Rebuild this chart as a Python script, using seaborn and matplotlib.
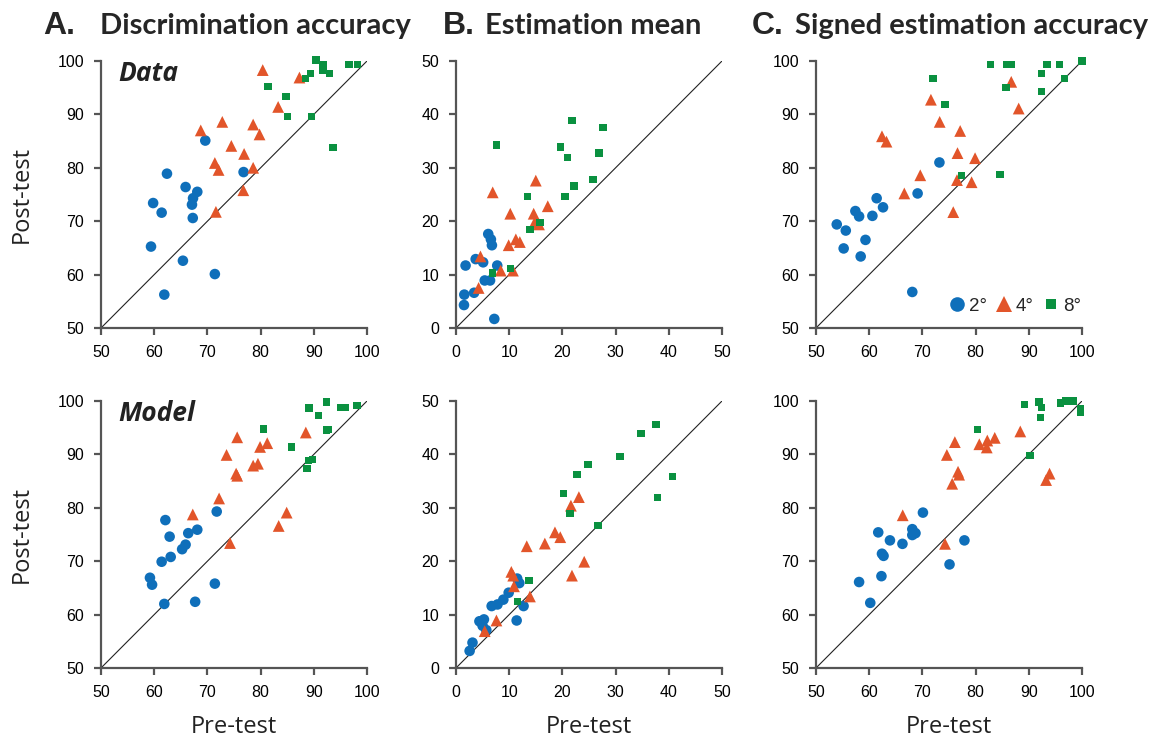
import numpy as np
import pandas as pd
import seaborn as sns
import matplotlib.pyplot as plt
from matplotlib.lines import Line2D

# ---- data (pre-test, post-test) ----
# A. discrimination accuracy, data
disc_data_2_pre = [69.6, 62.4, 76.8, 65.9, 68.1, 67.3, 67.1, 59.8, 61.4, 67.25, 59.4, 65.4, 71.4, 61.9]
disc_data_2_post = [85.1, 78.9, 79.2, 76.4, 75.5, 74.3, 73.1, 73.4, 71.6, 70.6, 65.25, 62.6, 60.1, 56.25]
disc_data_4_pre = [80.4, 87.3, 83.3, 72.8, 68.75, 78.6, 79.8, 74.5, 76.9, 71.4, 72.1, 78.6, 76.75, 71.6]
disc_data_4_post = [98.3, 96.9, 91.4, 88.6, 87.0, 88.1, 86.25, 84.1, 82.6, 80.9, 79.6, 80.0, 75.8, 71.75]
disc_data_8_pre = [90.4, 91.7, 91.7, 92.9, 89.4, 88.4, 96.6, 98.25, 81.4, 84.75, 85.1, 89.6, 93.6]
disc_data_8_post = [100.2, 99.3, 98.3, 97.6, 97.6, 96.7, 99.3, 99.3, 95.2, 93.3, 89.6, 89.6, 83.75]

# B. estimation mean, data
est_data_2_pre = [6.06, 6.56, 6.75, 1.8, 3.7, 5.1, 7.75, 5.4, 6.4, 1.56, 3.4, 1.5, 7.2]
est_data_2_post = [17.6, 16.6, 15.5, 11.7, 12.9, 12.3, 11.7, 8.9, 8.9, 6.25, 6.6, 4.3, 1.7]
est_data_4_pre = [6.9, 15.0, 17.25, 10.2, 14.6, 14.8, 15.6, 11.25, 12.0, 9.9, 4.6, 8.4, 10.7, 4.25]
est_data_4_post = [25.4, 27.6, 22.8, 21.4, 21.4, 19.8, 19.4, 16.6, 16.1, 15.5, 13.4, 10.75, 10.75, 7.5]
est_data_8_pre = [21.8, 27.6, 7.6, 19.6, 20.9, 26.9, 25.75, 22.2, 13.4, 20.5, 15.8, 13.9, 6.8, 10.2]
est_data_8_post = [38.8, 37.5, 34.3, 33.9, 31.9, 32.8, 27.75, 26.6, 24.6, 24.6, 19.7, 18.4, 10.3, 11.1]

# C. signed estimation accuracy, data
sgn_data_2_pre = [73.2, 69.1, 61.4, 62.6, 57.4, 58.1, 60.6, 53.9, 55.6, 59.3, 55.2, 58.4, 68.1]
sgn_data_2_post = [81.0, 75.2, 74.3, 72.6, 71.9, 70.9, 71.0, 69.4, 68.25, 66.5, 64.9, 63.4, 56.75]
sgn_data_4_pre = [86.7, 88.1, 71.6, 73.25, 77.1, 62.4, 63.25, 76.6, 79.9, 69.6, 76.5, 79.25, 66.6, 75.8]
sgn_data_4_post = [96.1, 91.1, 92.75, 88.6, 86.9, 85.9, 84.9, 82.75, 81.8, 78.6, 77.7, 77.3, 75.2, 71.7]
sgn_data_8_pre = [82.75, 85.8, 86.7, 93.4, 95.8, 100.0, 92.4, 96.75, 72.0, 85.7, 92.4, 74.25, 77.4, 84.6]
sgn_data_8_post = [99.3, 99.3, 99.3, 99.3, 99.3, 100.0, 97.6, 96.7, 96.7, 95.0, 94.25, 91.8, 78.5, 78.75]

# A. discrimination accuracy, model
disc_model_2_pre = [71.75, 62.1, 68.1, 66.4, 62.9, 65.9, 65.25, 63.1, 61.4, 59.2, 59.6, 71.4, 61.9, 67.7]
disc_model_2_post = [79.3, 77.7, 75.9, 75.25, 74.6, 73.1, 72.25, 70.8, 69.9, 66.9, 65.6, 65.8, 62.0, 62.4]
disc_model_4_pre = [75.6, 88.5, 81.25, 79.9, 73.6, 79.5, 78.6, 75.4, 75.6, 72.2, 67.25, 84.9, 83.4, 74.25]
disc_model_4_post = [93.2, 94.1, 92.1, 91.4, 89.9, 88.25, 87.9, 86.4, 86.0, 81.75, 78.75, 79.1, 76.6, 73.4]
disc_model_8_pre = [92.4, 89.1, 95.1, 95.9, 98.1, 90.9, 80.6, 92.4, 92.8, 85.8, 89.75, 89.0, 88.7]
disc_model_8_post = [99.8, 98.7, 98.8, 98.8, 99.2, 97.25, 94.75, 94.6, 94.7, 91.4, 89.1, 88.9, 87.4]

# B. estimation mean, model
est_model_2_pre = [2.56, 3.1, 4.4, 5.25, 5.0, 5.7, 6.7, 7.8, 8.9, 9.9, 11.5, 11.9, 12.7, 11.4]
est_model_2_post = [3.2, 4.75, 8.75, 9.1, 7.9, 7.1, 11.6, 11.9, 12.8, 14.1, 16.75, 15.9, 11.6, 8.9]
est_model_4_pre = [23.1, 21.6, 18.6, 19.6, 16.7, 13.3, 24.1, 21.8, 10.4, 10.75, 10.9, 13.9, 7.6, 5.4]
est_model_4_post = [32.0, 30.4, 25.4, 24.5, 23.3, 22.8, 19.9, 17.3, 18.0, 17.3, 15.3, 13.4, 8.9, 6.9]
est_model_8_pre = [37.6, 34.75, 30.8, 24.8, 22.75, 40.75, 20.25, 37.9, 21.4, 26.7, 13.75, 11.5]
est_model_8_post = [45.6, 43.9, 39.6, 38.1, 36.25, 35.9, 32.7, 31.9, 28.9, 26.7, 16.4, 12.4]

# C. signed estimation accuracy, model
sgn_model_2_pre = [70.1, 61.7, 68.1, 68.7, 68.1, 63.9, 66.25, 77.9, 62.4, 62.7, 75.1, 62.3, 58.1, 60.2]
sgn_model_2_post = [79.1, 75.4, 76.0, 75.25, 74.9, 73.9, 73.25, 73.9, 71.4, 71.0, 69.4, 67.2, 66.1, 62.2]
sgn_model_4_pre = [88.4, 83.6, 82.2, 76.1, 80.7, 82.1, 74.6, 76.7, 76.9, 75.6, 93.9, 93.25, 66.3, 74.25]
sgn_model_4_post = [94.3, 93.1, 92.6, 92.3, 91.9, 91.3, 89.9, 86.75, 86.2, 84.5, 86.4, 85.2, 78.6, 73.25]
sgn_model_8_pre = [89.25, 91.9, 92.4, 92.2, 96.0, 97.0, 98.3, 99.75, 99.75, 80.4, 90.2]
sgn_model_8_post = [99.4, 99.8, 98.75, 96.9, 99.6, 100.0, 100.0, 98.6, 97.9, 94.7, 89.8]

sizes_lbl = ['2°', '4°', '8°']
colors = {'2°': '#0f6fba', '4°': '#e2552a', '8°': '#0a9140'}
markers = {'2°': 'o', '4°': '^', '8°': 's'}
marker_area = {'2°': 58, '4°': 72, '8°': 28}

panel_titles = ['Discrimination accuracy', 'Estimation mean', 'Signed estimation accuracy']
panel_letters = ['A.', 'B.', 'C.']
acc_ticks = [50, 60, 70, 80, 90, 100]
est_ticks = [0, 10, 20, 30, 40, 50]


def make_df(p2, q2, p4, q4, p8, q8):
    parts = []
    for lbl, p, q in zip(sizes_lbl, [p2, p4, p8], [q2, q4, q8]):
        parts.append(pd.DataFrame({'pre': p, 'post': q, 'size': lbl}))
    return pd.concat(parts, ignore_index=True)


panels = [
    [make_df(disc_data_2_pre, disc_data_2_post, disc_data_4_pre, disc_data_4_post, disc_data_8_pre, disc_data_8_post),
     make_df(est_data_2_pre, est_data_2_post, est_data_4_pre, est_data_4_post, est_data_8_pre, est_data_8_post),
     make_df(sgn_data_2_pre, sgn_data_2_post, sgn_data_4_pre, sgn_data_4_post, sgn_data_8_pre, sgn_data_8_post)],
    [make_df(disc_model_2_pre, disc_model_2_post, disc_model_4_pre, disc_model_4_post, disc_model_8_pre, disc_model_8_post),
     make_df(est_model_2_pre, est_model_2_post, est_model_4_pre, est_model_4_post, est_model_8_pre, est_model_8_post),
     make_df(sgn_model_2_pre, sgn_model_2_post, sgn_model_4_pre, sgn_model_4_post, sgn_model_8_pre, sgn_model_8_post)],
]

sns.set_style('ticks')
plt.rcParams['font.family'] = ['Liberation Sans', 'DejaVu Sans']

W, H = 1150, 742
fig = plt.figure(figsize=(W / 100, H / 100), dpi=100)

lefts = [101, 456, 816]
tops = [61, 401]
aw, ah = 266, 267

for r in range(2):
    for c in range(3):
        ax = fig.add_axes([lefts[c] / W, 1 - (tops[r] + ah) / H, aw / W, ah / H])
        ticks = est_ticks if c == 1 else acc_ticks
        lo, hi = ticks[0], ticks[-1]
        ax.plot([lo, hi], [lo, hi], color='#222222', lw=0.8, zorder=1)
        df = panels[r][c]
        for lbl in sizes_lbl:
            sub = df[df['size'] == lbl]
            sns.scatterplot(data=sub, x='pre', y='post', ax=ax, color=colors[lbl],
                            marker=markers[lbl], s=marker_area[lbl], linewidth=0,
                            edgecolor='none', legend=False, zorder=3, clip_on=False)
        ax.set_xlim(lo, hi)
        ax.set_ylim(lo, hi)
        ax.set_xticks(ticks)
        ax.set_yticks(ticks)
        ax.set_xticklabels([str(t) for t in ticks])
        ax.set_yticklabels([str(t) for t in ticks])
        sns.despine(ax=ax)
        for sp in ['left', 'bottom']:
            ax.spines[sp].set_color('#555555')
            ax.spines[sp].set_linewidth(1.6)
        ax.tick_params(length=5, width=1.6, color='#555555', labelsize=11.5, pad=7,
                       labelcolor='black')
        ax.set_xlabel('Pre-test' if r == 1 else '', fontsize=17, family='Open Sans',
                      color='#222222', labelpad=11)
        ax.set_ylabel('Post-test' if c == 0 else '', fontsize=17, family='Open Sans',
                      color='#222222', labelpad=17)
        if c == 0:
            ax.text(0.064, 0.925, 'Data' if r == 0 else 'Model', transform=ax.transAxes,
                    fontsize=19, family='Open Sans', fontweight='bold', fontstyle='italic',
                    color='#222222', va='baseline', ha='left')
        if r == 0 and c == 2:
            handles = [Line2D([], [], ls='none', marker=markers[l], color=colors[l],
                              markeredgewidth=0, markersize=ms)
                       for l, ms in zip(sizes_lbl, [10.5, 12, 7])]
            ax.legend(handles, sizes_lbl, loc='lower right', bbox_to_anchor=(1.045, 0.0),
                      ncol=3, frameon=False, fontsize=13.5, handlelength=0.8,
                      handletextpad=0.25, columnspacing=0.5, borderaxespad=0.3)

title_x = [43, 443, 752]
text_x = [100, 485, 795]
for letter, name, lx, tx in zip(panel_letters, panel_titles, title_x, text_x):
    fig.text(lx / W, 1 - 34 / H, letter, fontsize=23, fontweight='bold',
             family='Liberation Sans', va='baseline', ha='left')
    fig.text(tx / W, 1 - 34 / H, name, fontsize=21, fontweight='bold',
             family='Lato', va='baseline', ha='left')

fig.savefig('out.png', dpi=100)
